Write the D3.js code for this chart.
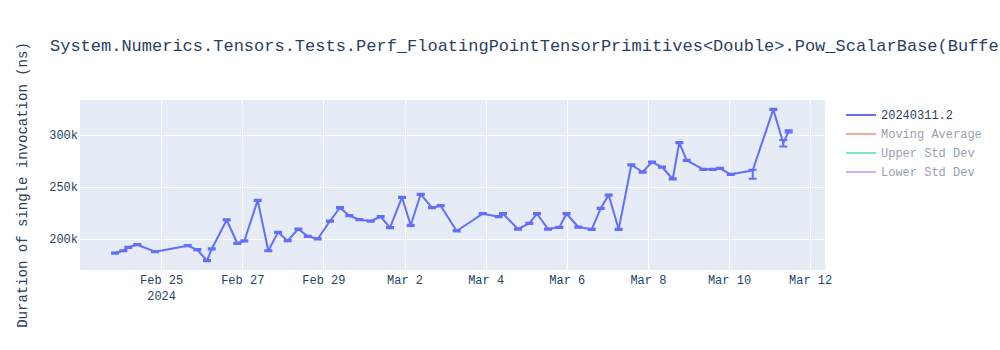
<!DOCTYPE html>
<html>
<head>
<meta charset="utf-8">
<script src="https://cdn.jsdelivr.net/npm/d3@7"></script>
<style>
  html, body { margin: 0; padding: 0; background: #fff; }
  svg { display: block; }
</style>
</head>
<body>
<svg id="chart" width="1000" height="350"></svg>
<script>
// ---- data ----
const titleText = "System.Numerics.Tensors.Tests.Perf_FloatingPointTensorPrimitives<Double>.Pow_ScalarBase(BufferLength: 3079)";
const yAxisTitle = "Duration of single invocation (ns)";
const legendNames = ["20240311.2", "Moving Average", "Upper Std Dev", "Lower Std Dev"];
const legendColors = ["#636efa", "#EF553B", "#00cc96", "#ab63fa"];
const legendVisible = [true, false, false, false];

const dates = [
  "2024-02-23T20:43", "2024-02-24T01:36", "2024-02-24T04:35", "2024-02-24T09:55", "2024-02-24T20:22",
  "2024-02-25T15:43", "2024-02-25T21:24", "2024-02-26T03:09", "2024-02-26T05:55", "2024-02-26T14:48",
  "2024-02-26T21:04", "2024-02-27T01:13", "2024-02-27T09:08", "2024-02-27T15:25", "2024-02-27T21:09",
  "2024-02-28T02:53", "2024-02-28T09:10", "2024-02-28T14:44", "2024-02-28T20:38", "2024-02-29T03:55",
  "2024-02-29T09:50", "2024-02-29T15:20", "2024-02-29T21:15", "2024-03-01T04:00", "2024-03-01T09:55",
  "2024-03-01T15:26", "2024-03-01T22:31", "2024-03-02T03:40", "2024-03-02T09:36", "2024-03-02T16:16",
  "2024-03-02T21:25", "2024-03-03T06:53", "2024-03-03T22:16", "2024-03-04T07:44", "2024-03-04T10:16",
  "2024-03-04T19:09", "2024-03-05T01:51", "2024-03-05T06:24", "2024-03-05T12:55", "2024-03-05T19:35",
  "2024-03-05T23:51", "2024-03-06T06:50", "2024-03-06T14:46", "2024-03-06T20:05", "2024-03-07T00:49",
  "2024-03-07T06:44", "2024-03-07T14:12", "2024-03-07T20:56", "2024-03-08T02:27", "2024-03-08T08:21",
  "2024-03-08T14:41", "2024-03-08T18:36", "2024-03-08T22:58", "2024-03-09T08:47", "2024-03-09T14:21",
  "2024-03-09T18:40", "2024-03-10T01:00", "2024-03-10T14:01", "2024-03-11T02:12", "2024-03-11T08:07",
  "2024-03-11T11:19"
];
const values = [
  186500, 188700, 192000, 194500, 187800,
  193600, 189700, 179100, 190400, 218300,
  195900, 198100, 237200, 188700, 206400,
  198400, 209600, 202600, 200000, 217300,
  230100, 222400, 218600, 217300, 221400,
  210900, 240100, 213200, 243000, 230100,
  232000, 207700, 224300, 221400, 224300,
  209600, 215100, 224300, 209600, 211200,
  224300, 211500, 209300, 229500, 242300,
  209300, 271200, 264400, 274000, 269200,
  257700, 292600, 275700, 267000, 267000,
  268000, 262200, 265900, 324600, 292300,
  303500
];
const errPlus = [
  600, 600, 600, 600, 600,
  600, 600, 600, 600, 600,
  600, 600, 600, 600, 600,
  600, 600, 600, 600, 600,
  600, 600, 600, 600, 600,
  600, 600, 600, 600, 600,
  600, 600, 600, 600, 600,
  600, 600, 600, 600, 600,
  600, 600, 600, 600, 600,
  600, 600, 600, 600, 600,
  600, 600, 600, 600, 600,
  600, 600, 600, 600, 3000,
  1000
];
const errMinus = [
  600, 600, 600, 600, 600,
  600, 600, 600, 600, 600,
  600, 600, 600, 600, 600,
  600, 600, 600, 600, 600,
  600, 600, 600, 600, 600,
  600, 600, 600, 600, 600,
  600, 600, 600, 600, 600,
  600, 600, 600, 600, 600,
  600, 600, 600, 600, 600,
  600, 600, 600, 600, 600,
  600, 600, 600, 600, 600,
  600, 600, 7900, 600, 3400,
  1000
];
const xRange = ["2024-02-23T00:00", "2024-03-12T08:48"];
const yRange = [170190, 333650];
const xTickDates = ["2024-02-25", "2024-02-27", "2024-02-29", "2024-03-02", "2024-03-04", "2024-03-06", "2024-03-08", "2024-03-10", "2024-03-12"];
const xTickLabels = ["Feb 25", "Feb 27", "Feb 29", "Mar 2", "Mar 4", "Mar 6", "Mar 8", "Mar 10", "Mar 12"];
const xTickSubLabels = ["2024", "", "", "", "", "", "", "", ""];
const yTickValues = [200000, 250000, 300000];
const yTickLabels = ["200k", "250k", "300k"];

// ---- layout ----
const FONT = "'Courier New', 'Liberation Mono', monospace";
const textColor = "#2a3f5f";
const plot = { left: 80, top: 100, right: 825, bottom: 270 };
const parse = d3.utcParse("%Y-%m-%dT%H:%M");
const parseDay = d3.utcParse("%Y-%m-%d");

const svg = d3.select("#chart").style("font-family", FONT);

const x = d3.scaleUtc().domain(xRange.map(parse)).range([plot.left, plot.right]);
const y = d3.scaleLinear().domain(yRange).range([plot.bottom, plot.top]);

svg.append("rect")
  .attr("x", plot.left).attr("y", plot.top)
  .attr("width", plot.right - plot.left).attr("height", plot.bottom - plot.top)
  .attr("fill", "#e5ecf6");

// grid
const gx = svg.append("g");
xTickDates.forEach(d => {
  const px = Math.round(x(parseDay(d))) + 0.5;
  gx.append("line").attr("x1", px).attr("x2", px).attr("y1", plot.top).attr("y2", plot.bottom)
    .attr("stroke", "#fff").attr("stroke-width", 1);
});
yTickValues.forEach(v => {
  const py = Math.round(y(v)) + 0.5;
  gx.append("line").attr("x1", plot.left).attr("x2", plot.right).attr("y1", py).attr("y2", py)
    .attr("stroke", "#fff").attr("stroke-width", 1);
});

// axes labels via d3 axes (no domain lines / ticks)
const xAxis = d3.axisBottom(x).tickValues(xTickDates.map(parseDay))
  .tickFormat((d, i) => xTickLabels[i]).tickSize(0).tickPadding(0);
const xg = svg.append("g").attr("transform", `translate(0,${plot.bottom})`).call(xAxis);
xg.select(".domain").remove();
xg.selectAll(".tick text")
  .attr("y", 14).attr("dy", 0)
  .style("font-family", FONT).style("font-size", "12px").attr("fill", textColor)
  .each(function(d, i) {
    if (xTickSubLabels[i]) {
      d3.select(this.parentNode).append("text")
        .attr("y", 30).attr("text-anchor", "middle")
        .style("font-family", FONT).style("font-size", "12px").attr("fill", textColor)
        .text(xTickSubLabels[i]);
    }
  });

const yAxis = d3.axisLeft(y).tickValues(yTickValues)
  .tickFormat((d, i) => yTickLabels[i]).tickSize(0).tickPadding(2);
const yg = svg.append("g").attr("transform", `translate(${plot.left},0)`).call(yAxis);
yg.select(".domain").remove();
yg.selectAll(".tick text")
  .style("font-family", FONT).style("font-size", "12px").attr("fill", textColor);

// data
const pts = dates.map((d, i) => ({ t: parse(d), v: values[i], ep: errPlus[i], em: errMinus[i] }));

svg.append("clipPath").attr("id", "clip").append("rect")
  .attr("x", plot.left).attr("y", plot.top)
  .attr("width", plot.right - plot.left).attr("height", plot.bottom - plot.top);

const dataG = svg.append("g").attr("clip-path", "url(#clip)");
dataG.append("path")
  .datum(pts)
  .attr("fill", "none")
  .attr("stroke", "#636efa")
  .attr("stroke-width", 2)
  .attr("stroke-linejoin", "round")
  .attr("d", d3.line().x(d => x(d.t)).y(d => y(d.v)));

dataG.selectAll("path.err").data(pts).enter().append("path")
  .attr("class", "err")
  .attr("fill", "none")
  .attr("stroke", "#636efa")
  .attr("stroke-width", 2)
  .attr("d", d => {
    const px = x(d.t), y1 = y(d.v + d.ep), y2 = y(d.v - d.em);
    return `M${px - 4},${y1}h8M${px},${y1}V${y2}M${px - 4},${y2}h8`;
  });

// title
svg.append("text")
  .attr("x", 50).attr("y", 51)
  .style("font-family", FONT).style("font-size", "17px").attr("fill", textColor)
  .text(titleText);

// y axis title
svg.append("text")
  .attr("transform", `translate(27,${(plot.top + plot.bottom) / 2}) rotate(-90)`)
  .attr("text-anchor", "middle")
  .style("font-family", FONT).style("font-size", "14px").attr("fill", textColor)
  .text(yAxisTitle);

// legend
const lg = svg.append("g");
legendNames.forEach((name, i) => {
  const ly = 115 + i * 19;
  const op = legendVisible[i] ? 1 : 0.5;
  const g = lg.append("g").attr("opacity", op);
  g.append("line").attr("x1", 846).attr("x2", 876).attr("y1", ly).attr("y2", ly)
    .attr("stroke", legendColors[i]).attr("stroke-width", 2);
  g.append("text").attr("x", 881).attr("y", ly + 4)
    .style("font-family", FONT).style("font-size", "12px").attr("fill", textColor)
    .text(name);
});
</script>
</body>
</html>
